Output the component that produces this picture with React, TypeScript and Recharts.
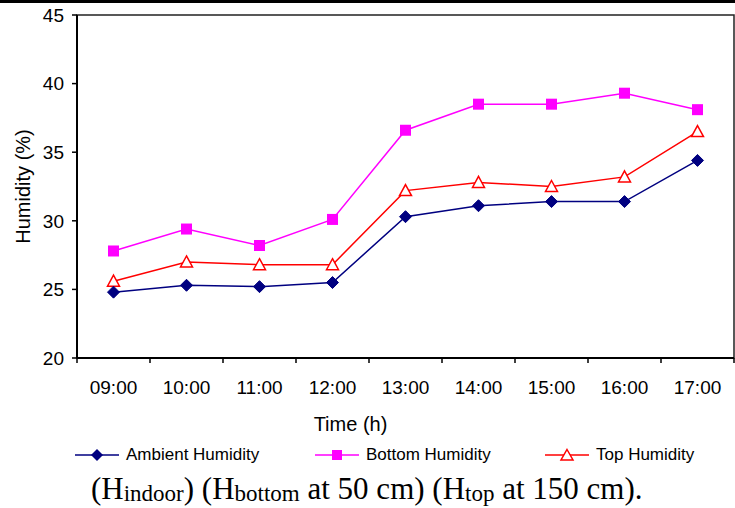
import { LineChart, Line, XAxis, YAxis, ReferenceArea } from 'recharts';

const times = ['09:00', '10:00', '11:00', '12:00', '13:00', '14:00', '15:00', '16:00', '17:00'];
const ambientHumidity = [24.8, 25.3, 25.2, 25.5, 30.3, 31.1, 31.4, 31.4, 34.4];
const bottomHumidity = [27.8, 29.4, 28.2, 30.1, 36.6, 38.5, 38.5, 39.3, 38.1];
const topHumidity = [25.6, 27.0, 26.8, 26.8, 32.2, 32.8, 32.5, 33.2, 36.5];
const yTicks = [20, 25, 30, 35, 40, 45];
const xBounds = [0, 1, 2, 3, 4, 5, 6, 7, 8, 9];

const data = times.map((t, i) => ({
  pos: i + 0.5,
  time: t,
  ambient: ambientHumidity[i],
  bottom: bottomHumidity[i],
  top: topHumidity[i],
}));

const FONT = '"Liberation Sans", Arial, sans-serif';
const NAVY = '#000080';
const MAGENTA = '#FF00FF';
const RED = '#FF0000';

const Diamond = ({ cx, cy }: any) =>
  cx == null ? <g /> : (
    <polygon points={`${cx},${cy - 6} ${cx + 6},${cy} ${cx},${cy + 6} ${cx - 6},${cy}`} fill={NAVY} stroke={NAVY} />
  );

const Square = ({ cx, cy }: any) =>
  cx == null ? <g /> : <rect x={cx - 5.5} y={cy - 5.5} width={11} height={11} fill={MAGENTA} />;

const Triangle = ({ cx, cy }: any) =>
  cx == null ? <g /> : (
    <polygon
      points={`${cx},${cy - 6} ${cx + 6},${cy + 5} ${cx - 6},${cy + 5}`}
      fill="#fff"
      stroke={RED}
      strokeWidth={1.5}
    />
  );

// labels sit between the boundary ticks
const TimeTick = ({ x, y, payload, width }: any) => {
  const i = payload.value;
  if (i >= times.length) return <g />;
  const step = (width || 657) / times.length;
  return (
    <text x={x + step / 2} y={y + 29} textAnchor="middle" fontFamily={FONT} fontSize={19} fill="#000">
      {times[i]}
    </text>
  );
};

const legendItems = [
  { name: 'Ambient Humidity', color: NAVY, x: 75, marker: 'diamond' },
  { name: 'Bottom Humidity', color: MAGENTA, x: 315, marker: 'square' },
  { name: 'Top Humidity', color: RED, x: 545, marker: 'triangle' },
];

function LegendMarker({ kind, color }: { kind: string; color: string }) {
  return (
    <svg width={44} height={14} style={{ display: 'block' }}>
      <line x1={0} y1={7} x2={44} y2={7} stroke={color} strokeWidth={1.5} />
      {kind === 'diamond' && <polygon points="22,1 28,7 22,13 16,7" fill={color} />}
      {kind === 'square' && <rect x={17} y={2} width={10} height={10} fill={color} />}
      {kind === 'triangle' && (
        <polygon points="22,1.5 28,12 16,12" fill="#fff" stroke={color} strokeWidth={1.5} />
      )}
    </svg>
  );
}

const subStyle = { fontSize: 23, verticalAlign: '-2px', lineHeight: 0 };

export default function App() {
  return (
    <div style={{ position: 'absolute', left: 0, top: 0, width: 735, height: 508, background: '#fff' }}>
      <div style={{ position: 'absolute', left: 0, top: 0, width: 735, height: 3, background: '#000' }} />
      <LineChart
        width={735}
        height={470}
        data={data}
        margin={{ top: 15, right: 1, left: 0, bottom: 72 }}
      >
        <XAxis
          dataKey="pos"
          type="number"
          domain={[0, 9]}
          ticks={xBounds}
          interval={0}
          tick={<TimeTick />}
          tickSize={5}
          height={40}
          axisLine={{ stroke: '#000', strokeWidth: 2 }}
          tickLine={{ stroke: '#000', strokeWidth: 1.5 }}
          label={{
            value: 'Time (h)',
            position: 'bottom',
            offset: 19,
            dx: -55,
            style: { fontFamily: FONT, fontSize: 20, fill: '#000' },
          }}
        />
        <YAxis
          type="number"
          domain={[20, 45]}
          ticks={yTicks}
          interval={0}
          width={77}
          tickSize={5}
          tickMargin={8}
          axisLine={{ stroke: '#000', strokeWidth: 2 }}
          tickLine={{ stroke: '#000', strokeWidth: 1.5 }}
          tick={{ fontFamily: FONT, fontSize: 19, fill: '#000' }}
          label={{
            value: 'Humidity (%)',
            angle: -90,
            position: 'insideLeft',
            offset: 23,
            style: { fontFamily: FONT, fontSize: 20, fill: '#000', textAnchor: 'middle' },
          }}
        />
        <ReferenceArea x1={0} x2={9} y1={20} y2={45} fill="none" stroke="#222" strokeWidth={1.5} />
        <Line
          dataKey="bottom"
          stroke={MAGENTA}
          strokeWidth={1.5}
          dot={<Square />}
          isAnimationActive={false}
        />
        <Line
          dataKey="top"
          stroke={RED}
          strokeWidth={1.5}
          dot={<Triangle />}
          isAnimationActive={false}
        />
        <Line
          dataKey="ambient"
          stroke={NAVY}
          strokeWidth={1.5}
          dot={<Diamond />}
          isAnimationActive={false}
        />
      </LineChart>
      {legendItems.map((it) => (
        <div
          key={it.name}
          style={{
            position: 'absolute',
            left: it.x,
            top: 446,
            display: 'flex',
            alignItems: 'center',
            gap: 7,
            fontFamily: FONT,
            fontSize: 17,
            lineHeight: '18px',
            color: '#000',
            whiteSpace: 'nowrap',
          }}
        >
          <LegendMarker kind={it.marker} color={it.color} />
          <span>{it.name}</span>
        </div>
      ))}
      <div
        style={{
          position: 'absolute',
          left: 91,
          top: 473,
          fontFamily: '"Liberation Serif", "Times New Roman", serif',
          fontSize: 31,
          lineHeight: '32px',
          color: '#000',
          whiteSpace: 'nowrap',
        }}
      >
        (H<sub style={subStyle}>indoor</sub>) (H<sub style={subStyle}>bottom</sub> at 50 cm) (H
        <sub style={subStyle}>top</sub> at 150 cm).
      </div>
    </div>
  );
}
